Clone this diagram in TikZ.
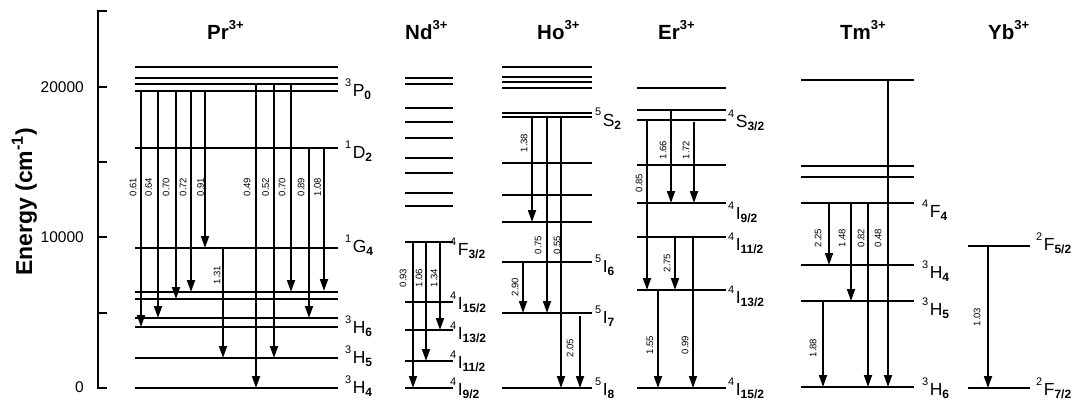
\documentclass[tikz,border=0pt]{standalone}
\usepackage{fontspec}
\setmainfont{Liberation Sans}
\usetikzlibrary{arrows.meta}
\newcommand\stl[3]{\raisebox{10pt}{\fontsize{11}{11}\selectfont #1}\kern1.5pt{\fontsize{17.5}{17.5}\selectfont #2}\raisebox{-3pt}{\fontsize{12}{12}\selectfont\bfseries #3}}
\newcommand\iontitle[2]{#1\raisebox{10pt}{\fontsize{13}{13}\selectfont #2}}
\begin{document}
\begin{tikzpicture}[x=1pt,y=-1pt,
 lev/.style={line width=1.5pt},
 trn/.style={line width=1.8pt,-{Triangle[length=12pt,width=8pt]}},
 tl/.style={rotate=90,inner sep=0pt,font=\fontsize{9.5}{9.5}\selectfont},
 sl/.style={anchor=base west,inner sep=0pt},
 ion/.style={anchor=base west,inner sep=0pt,font=\fontsize{20.5}{20.5}\selectfont\bfseries},
 ticklab/.style={anchor=east,inner sep=0pt,font=\fontsize{15.5}{15.5}\selectfont}]
\useasboundingbox (0,0) rectangle (1075,401);
\newcommand\tra[6]{\draw[trn] (#1,#2) -- (#1,#3); \node[tl] at (#4,#5) {#6};}
% axis
\draw[line width=1.6pt] (107,11) -- (98,11) -- (98,388) -- (107,388);
\foreach \yy in {87,162,237,313} \draw[line width=1.6pt] (98,\yy) -- (107,\yy);
\node[ticklab] (t20) at (84,87) {20000};
\node[ticklab] (t10) at (84,237) {10000};
\node[ticklab] (t0) at (84,387) {0};
\node[rotate=90,anchor=base,inner sep=0pt,font=\fontsize{23}{23}\selectfont\bfseries] (ylab) at (32,202) {Energy (cm\textsuperscript{-1})};
% titles
\node[ion] (pr) at (207,40) {\iontitle{Pr}{3+}};
\node[ion] (nd) at (405,40) {\iontitle{Nd}{3+}};
\node[ion] (ho) at (537,40) {\iontitle{Ho}{3+}};
\node[ion] (er) at (658,40) {\iontitle{Er}{3+}};
\node[ion] (tm) at (840,40) {\iontitle{Tm}{3+}};
\node[ion] (yb) at (988,40) {\iontitle{Yb}{3+}};
% levels
\foreach \yy in {67,78,84,91,148,248,292,299,318,327,358,388} \draw[lev] (135,\yy) -- (338,\yy);
\foreach \yy in {78,84,108,122,138,158,173,193,206,242,302,330,361,388} \draw[lev] (405,\yy) -- (453,\yy);
\foreach \yy in {67,77,82,88,113,117,163,195,222,262,313,388} \draw[lev] (502,\yy) -- (592,\yy);
\foreach \yy in {88,110,120,165,203,237,290,388} \draw[lev] (637,\yy) -- (726,\yy);
\foreach \yy in {80,166,177,203,265,301,387} \draw[lev] (801,\yy) -- (914,\yy);
\foreach \yy in {246,388} \draw[lev] (968,\yy) -- (1030,\yy);
% state labels
\node[sl] (p1) at (345,97) {\stl{3}{P}{0}};
\node[sl] (p2) at (345,158) {\stl{1}{D}{2}};
\node[sl] (p3) at (345,252) {\stl{1}{G}{4}};
\node[sl] (p4) at (345,333) {\stl{3}{H}{6}};
\node[sl] (p5) at (345,363) {\stl{3}{H}{5}};
\node[sl] (p6) at (345,393) {\stl{3}{H}{4}};
\node[sl] (n1) at (450,255) {\stl{4}{F}{3/2}};
\node[sl] (n2) at (450,309) {\stl{4}{I}{15/2}};
\node[sl] (n3) at (450,339) {\stl{4}{I}{13/2}};
\node[sl] (n4) at (450,368) {\stl{4}{I}{11/2}};
\node[sl] (n5) at (450,395) {\stl{4}{I}{9/2}};
\node[sl] (h1) at (595,126) {\stl{5}{S}{2}};
\node[sl] (h2) at (595,272) {\stl{5}{I}{6}};
\node[sl] (h3) at (595,323) {\stl{5}{I}{7}};
\node[sl] (h4) at (595,395) {\stl{5}{I}{8}};
\node[sl] (e1) at (728,128) {\stl{4}{S}{3/2}};
\node[sl] (e2) at (728,219) {\stl{4}{I}{9/2}};
\node[sl] (e3) at (728,250) {\stl{4}{I}{11/2}};
\node[sl] (e4) at (728,303) {\stl{4}{I}{13/2}};
\node[sl] (e5) at (728,395) {\stl{4}{I}{15/2}};
\node[sl] (m1) at (922,217) {\stl{4}{F}{4}};
\node[sl] (m2) at (922,278) {\stl{3}{H}{4}};
\node[sl] (m3) at (922,315) {\stl{3}{H}{5}};
\node[sl] (m4) at (922,395) {\stl{3}{H}{6}};
\node[sl] (y1) at (1036,250) {\stl{2}{F}{5/2}};
\node[sl] (y2) at (1036,395) {\stl{2}{F}{7/2}};
% Pr transitions
\tra{141}{91}{327}{133}{187}{0.61}
\tra{158}{91}{318}{148.5}{187}{0.64}
\tra{176}{91}{299}{166}{187}{0.70}
\tra{191}{91}{292}{183}{187}{0.72}
\tra{205}{91}{248}{200.5}{187}{0.91}
\tra{223}{248}{358}{217}{275}{1.31}
\tra{256}{83}{388}{247}{187}{0.49}
\tra{274}{85}{358}{265.5}{187}{0.52}
\tra{291}{85}{292}{282}{187}{0.70}
\tra{309}{148}{318}{301}{187}{0.89}
\tra{324}{148}{291}{317.5}{187}{1.08}
% Nd transitions
\tra{413}{242}{388}{403}{278}{0.93}
\tra{426}{242}{361}{419}{278}{1.06}
\tra{440}{242}{330}{434}{278}{1.34}
% Ho transitions
\tra{532}{117}{222}{524}{143}{1.38}
\tra{547}{118}{313}{538}{245}{0.75}
\tra{561}{117}{388}{557}{245}{0.55}
\tra{523}{262}{313}{515}{287}{2.90}
\tra{580}{316}{388}{570}{348}{2.05}
% Er transitions
\tra{647}{120}{290}{639}{183}{0.85}
\tra{671}{110}{203}{663}{150}{1.66}
\tra{694}{122}{203}{686}{150}{1.72}
\tra{675}{237}{290}{667}{263}{2.75}
\tra{658}{290}{388}{650}{345}{1.55}
\tra{693}{237}{388}{685}{345}{0.99}
% Tm transitions
\tra{888}{80}{387}{878}{238}{0.48}
\tra{829}{203}{265}{818}{238}{2.25}
\tra{851}{203}{301}{842}{238}{1.48}
\tra{868}{203}{387}{861}{238}{0.82}
\tra{823}{301}{387}{813}{348}{1.88}
% Yb transition
\tra{988}{246}{388}{977}{317}{1.03}
\end{tikzpicture}
\end{document}
